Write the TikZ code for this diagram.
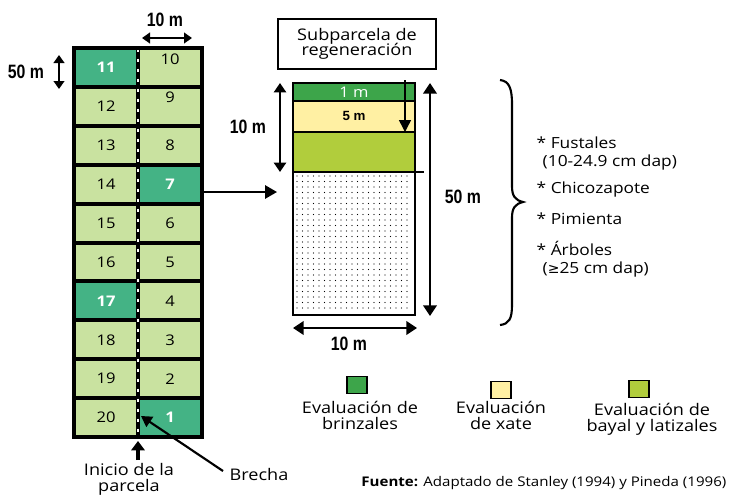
\documentclass[tikz,border=0pt]{standalone}
\usepackage{fontspec}
\setmainfont{Open Sans}[FakeStretch=1.13]
\newfontfamily\cond[FakeStretch=0.82]{Liberation Sans}
\newfontfamily\arial{Liberation Sans}
\newfontfamily\dv{DejaVu Sans}
\usetikzlibrary{arrows.meta}
\definecolor{cellL}{HTML}{C9E2A0}
\definecolor{cellD}{HTML}{44B385}
\definecolor{bandA}{HTML}{3DA54A}
\definecolor{bandB}{HTML}{FFF0A3}
\definecolor{bandC}{HTML}{B1CD3C}
\tikzset{
  num/.style={font=\fontsize{11}{12}\selectfont, text=black},
  numw/.style={font=\fontsize{11}{12}\selectfont\bfseries, text=white},
  dim/.style={font=\cond\bfseries\fontsize{14.5}{15}\selectfont},
  dblarrow/.style={line width=2.2pt, {Triangle[length=6pt,width=8pt]}-{Triangle[length=6pt,width=8pt]}},
  txt/.style={font=\fontsize{12}{12}\selectfont, align=center},
  lst/.style={font=\fontsize{11.5}{12.5}\selectfont, anchor=west},
  legsq/.style={draw=black, line width=1.2pt, minimum width=15pt, minimum height=13pt, inner sep=0pt}
}
\begin{document}
\begin{tikzpicture}[x=0.75pt,y=-0.75pt]
\useasboundingbox (0,0) rectangle (733,497);
% ---------- grid ----------
\foreach \i/\fl/\fr in {0/cellD/cellL,1/cellL/cellL,2/cellL/cellL,3/cellL/cellD,4/cellL/cellL,5/cellL/cellL,6/cellD/cellL,7/cellL/cellL,8/cellL/cellL,9/cellL/cellD}{
  \fill[\fl] (74,{48+\i*38.9}) rectangle (138,{48+(\i+1)*38.9});
  \fill[\fr] (138,{48+\i*38.9}) rectangle (202,{48+(\i+1)*38.9});
}
\foreach \i in {1,...,9}{
  \draw[line width=3pt] (74,{48+\i*38.9}) -- (202,{48+\i*38.9});
}
\draw[line width=3pt] (74,48) rectangle (202,437);
\draw[line width=2.6pt] (138,48) -- (138,437);
\draw[line width=1.6pt, white, dash pattern=on 2.5pt off 5pt, dash phase=1pt] (138,50) -- (138,435);
% numbers
\node[numw] (c11) at (106,67.5) {11};
\node[num] (c12) at (106,106.4) {12};
\node[num] (c13) at (106,145.3) {13};
\node[num] (c14) at (106,184.2) {14};
\node[num] (c15) at (106,223.1) {15};
\node[num] (c16) at (106,262) {16};
\node[numw] (c17) at (106,300.9) {17};
\node[num] (c18) at (106,339.8) {18};
\node[num] (c19) at (106,378.7) {19};
\node[num] (c20) at (106,417.6) {20};
\node[num] (c10) at (170,59) {10};
\node[num] (c9) at (170,97) {9};
\node[num] (c8) at (170,145.3) {8};
\node[numw] (c7) at (170,184.2) {7};
\node[num] (c6) at (170,223.1) {6};
\node[num] (c5) at (170,262) {5};
\node[num] (c4) at (170,300.9) {4};
\node[num] (c3) at (170,339.8) {3};
\node[num] (c2) at (170,378.7) {2};
\node[numw] (c1) at (170,417.6) {1};
% dimension labels for grid
\node[dim] (d10top) at (165,20) {10 m};
\coordinate (t1) at (142,38); \coordinate (t2) at (192,38);
\draw[dblarrow] (t1) -- (t2);
\node[dim] (d50left) at (26,72) {50 m};
\coordinate (l1) at (59,55); \coordinate (l2) at (59,89);
\draw[dblarrow] (l1) -- (l2);
% inicio / brecha
\coordinate (iniT) at (138,441);
\node[txt, anchor=north] (inicio) at (129,459) {Inicio de la\\parcela};
\draw[line width=3pt, -{Triangle[length=7pt,width=10pt]}] (inicio.north -| iniT) ++(0,1) -- (iniT);
\node[txt, anchor=west] (brecha) at (225,474) {Brecha};
\coordinate (brT) at (141,416);
\draw[line width=1.6pt, -{Triangle[length=8pt,width=9pt]}] (brecha.west) ++(-2,-3) -- (brT);
% ---------- subplot ----------
\node[draw, line width=1.5pt, minimum width=118pt, minimum height=38pt, align=center,
      font=\fontsize{12}{13}\selectfont] (sub) at (357,44) {Subparcela de\\[-2pt]regeneración};
\fill[bandA] (293,83) rectangle (415,101);
\fill[bandB] (293,101) rectangle (415,132);
\fill[bandC] (293,132) rectangle (415,172);
\foreach \yy in {176,181.5,...,313}{
  \foreach \xx in {297,302.5,...,412}{
    \fill (\xx,\yy) circle (0.55pt);
  }
}
\draw[line width=1.5pt] (293,101) -- (415,101);
\draw[line width=1.5pt] (293,132) -- (415,132);
\draw[line width=1.5pt] (293,172) -- (424,172);
\draw[line width=2.2pt] (293,83) rectangle (415,315);
\node[font=\fontsize{11}{12}\selectfont, text=white] (b1) at (354,92) {1 m};
\node[font=\arial\bfseries\fontsize{10}{12}\selectfont] (b5) at (354,116) {5 m};
\coordinate (ia) at (405,80); \coordinate (ib) at (405,132);
\draw[line width=1.1pt, -{Triangle[length=9pt,width=9pt]}] (ia) -- (ib);
% dimension arrows of subplot
\coordinate (la) at (280,83); \coordinate (lb) at (280,172);
\draw[line width=1.8pt, {Triangle[length=7pt,width=9pt]}-{Triangle[length=7pt,width=9pt]}] (la) -- (lb);
\node[dim] (d10l) at (248,127) {10 m};
\coordinate (ra) at (430,83); \coordinate (rb) at (430,316);
\draw[line width=2.2pt, {Triangle[length=8pt,width=10pt]}-{Triangle[length=8pt,width=10pt]}] (ra) -- (rb);
\node[dim] (d50r) at (463,197) {50 m};
\coordinate (ba) at (293,328); \coordinate (bb) at (417,328);
\draw[line width=2.2pt, {Triangle[length=8pt,width=10pt]}-{Triangle[length=8pt,width=10pt]}] (ba) -- (bb);
\node[dim] (d10b) at (349,344) {10 m};
% arrow grid -> subplot
\coordinate (ga) at (203,192); \coordinate (gb) at (277,192);
\draw[line width=1.5pt, -{Triangle[length=9pt,width=10pt]}] (ga) -- (gb);
% brace
\draw[line width=1.6pt] (500,80) .. controls (509,81) and (512,88) .. (512,104) -- (512,186)
  .. controls (512,196) and (515,200) .. (523,202)
  .. controls (515,204) and (512,208) .. (512,218) -- (512,305)
  .. controls (512,319) and (509,324) .. (500,325);
% list
\node[lst] (f1) at (532,143) {* Fustales};
\node[lst] (f2) at (538,163) {(10-24.9 cm dap)};
\node[lst] (f3) at (532,190) {* Chicozapote};
\node[lst] (f4) at (532,219) {* Pimienta};
\node[lst] (f5) at (532,248) {* Árboles};
\node[lst] (f6) at (538,270) {({\dv\fontsize{10.5}{12}\selectfont ≥}25 cm dap)};
% legend
\node[legsq, fill=bandA] (s1) at (357,385) {};
\node[txt] (t1l) at (360,415) {Evaluación de\\brinzales};
\node[legsq, fill=bandB] (s2) at (501,390) {};
\node[txt] (t2l) at (501,415) {Evaluación\\de xate};
\node[legsq, fill=bandC] (s3) at (639,389) {};
\node[txt] (t3l) at (652,419) {Evaluación de\\bayal y latizales};
\node[font=\fontsize{10}{11}\selectfont, anchor=east] (fuente) at (731,483) {\textbf{Fuente:} Adaptado de Stanley (1994) y Pineda (1996)};
\end{tikzpicture}
\end{document}
